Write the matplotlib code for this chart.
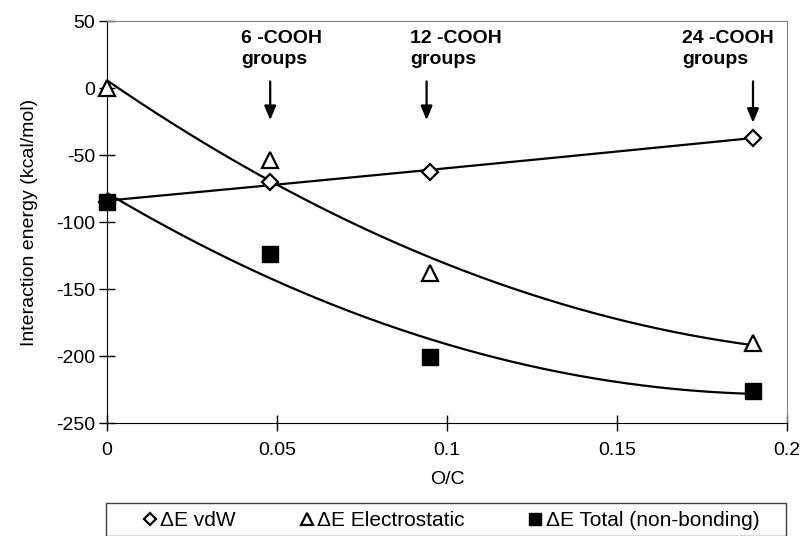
import numpy as np
import matplotlib
matplotlib.use('Agg')
import matplotlib.pyplot as plt
from matplotlib.patches import Rectangle

plt.rcParams['font.family'] = ['Liberation Sans', 'DejaVu Sans']
plt.rcParams['axes.unicode_minus'] = False

## data
oc = [0.0, 0.048, 0.095, 0.19]
e_vdw = [-85, -70, -63, -37]
e_elec = [0, -54, -138, -190]
e_total = [-85, -124, -201, -226]

groups = ['6 -COOH\ngroups', '12 -COOH\ngroups', '24 -COOH\ngroups']
group_x = [0.048, 0.094, 0.19]
group_text_x = [0.0394, 0.0891, 0.1691]
arrow_tip = [-26, -26, -28]

fig = plt.figure(figsize=[8.07, 5.36], dpi=100)
ax = fig.add_axes([0.1326, 0.2108, 0.8426, 0.75])

##2nd order trend lines, like the spreadsheet ones
xs = np.linspace(0, 0.19, 200)
for ys in (e_vdw, e_elec, e_total):
    c = np.polyfit(oc, ys, 2)
    ax.plot(xs, np.polyval(c, xs), color='black', lw=1.6, zorder=2)

ax.plot(oc, e_vdw, ls='none', marker='D', ms=8, mfc='white', mec='black', mew=1.6,
        label='ΔE vdW', zorder=3, clip_on=False)
ax.plot(oc, e_elec, ls='none', marker='^', ms=12, mfc='white', mec='black', mew=1.6,
        label='ΔE Electrostatic', zorder=3, clip_on=False)
ax.plot(oc, e_total, ls='none', marker='s', ms=11, mfc='black', mec='black',
        label='ΔE Total (non-bonding)', zorder=4, clip_on=False)

for g, gx, tx, tip in zip(groups, group_x, group_text_x, arrow_tip):
    ax.text(tx, 43, g, fontsize=14, fontweight='bold', ha='left', va='top', linespacing=1.3)
    ax.annotate('', xy=(gx, tip), xytext=(gx, 7),
                arrowprops=dict(arrowstyle='-|>,head_width=0.25,head_length=0.6',
                                color='black', lw=1.6, mutation_scale=14))

ax.set_xlim(0, 0.2)
ax.set_ylim(-250, 50)
ax.set_xticks([0, 0.05, 0.1, 0.15, 0.2])
ax.set_xticklabels(['0', '0.05', '0.1', '0.15', '0.2'])
ax.set_yticks(np.arange(-250, 51, 50))
ax.tick_params(direction='inout', length=11, width=1, labelsize=14)
ax.tick_params(axis='x', pad=8)
ax.tick_params(axis='y', pad=3)
ax.spines['top'].set_color('#808080')
ax.spines['right'].set_color('#808080')
ax.set_xlabel('O/C', fontsize=14, labelpad=9)
ax.set_ylabel('Interaction energy (kcal/mol)', fontsize=14, labelpad=13)

##legend box below the plot
fig.patches.append(Rectangle((0.1314, 0.0), 0.8426, 0.0616, transform=fig.transFigure,
                             fill=False, edgecolor='#404040', lw=1.0))
fig.legend(loc='center', ncol=3, bbox_to_anchor=(0.558, 0.029), fontsize=15,
           handletextpad=0.1, handlelength=0.8, columnspacing=3.0, markerscale=0.75,
           frameon=False, borderaxespad=0)

fig.savefig('out.png', dpi=100)
